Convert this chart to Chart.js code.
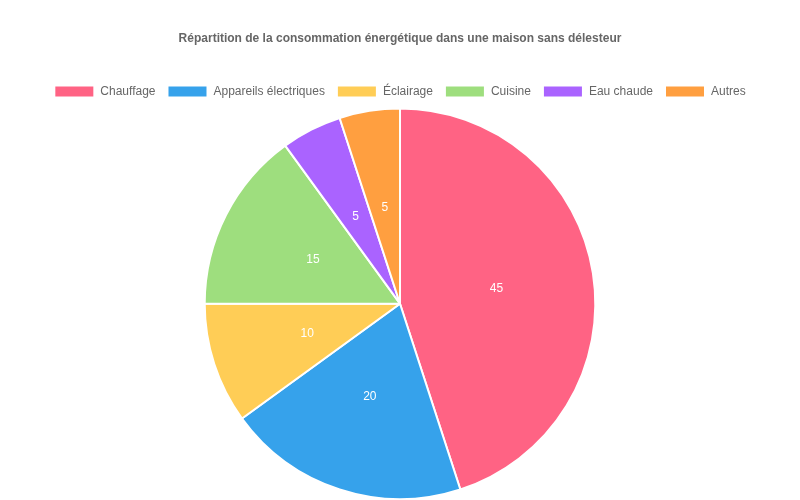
<!DOCTYPE html>
<html>
<head>
<meta charset="utf-8">
<script src="https://cdn.jsdelivr.net/npm/chart.js@4"></script>
<style>
  html, body { margin: 0; padding: 0; background: #fff; }
  #wrap { width: 800px; height: 500px; }
</style>
</head>
<body>
<div id="wrap"><canvas id="pieChart"></canvas></div>
<script>
const categories = ['Chauffage', 'Appareils électriques', 'Éclairage', 'Cuisine', 'Eau chaude', 'Autres'];
const consumption = [45, 20, 10, 15, 5, 5];   // % of total
const sliceColors = ['#ff6384', '#36a2eb', '#ffcd56', '#9ede7e', '#aa63ff', '#ff9f40'];

// white value labels in the middle of each slice
const sliceLabels = {
    id: 'sliceLabels',
    afterDatasetsDraw(chart) {
        const ctx = chart.ctx;
        const meta = chart.getDatasetMeta(0);
        ctx.save();
        ctx.fillStyle = '#fff';
        ctx.font = '12px "Liberation Sans", Arial, sans-serif';
        ctx.textAlign = 'center';
        ctx.textBaseline = 'middle';
        meta.data.forEach((arc, i) => {
            const pos = arc.tooltipPosition();
            ctx.fillText(String(consumption[i]), pos.x, pos.y);
        });
        ctx.restore();
    }
};

Chart.defaults.font.family = '"Liberation Sans", Arial, sans-serif';
Chart.defaults.color = '#666';

new Chart(document.getElementById('pieChart'), {
    type: 'pie',
    data: {
        labels: categories,
        datasets: [{
            data: consumption,
            backgroundColor: sliceColors,
            borderColor: '#fff',
            borderWidth: 2
        }]
    },
    options: {
        responsive: true,
        maintainAspectRatio: false,
        animation: false,
        layout: { padding: { top: 21, bottom: 0 } },
        plugins: {
            title: {
                display: true,
                text: 'Répartition de la consommation énergétique dans une maison sans délesteur',
                font: { size: 12, weight: 'bold' },
                color: '#666',
                padding: { top: 10, bottom: 28 }
            },
            legend: {
                position: 'top',
                labels: {
                    boxWidth: 40,
                    boxHeight: 12,
                    font: { size: 12 },
                    padding: 12
                }
            },
            tooltip: { enabled: false }
        }
    },
    plugins: [sliceLabels]
});
</script>
</body>
</html>
